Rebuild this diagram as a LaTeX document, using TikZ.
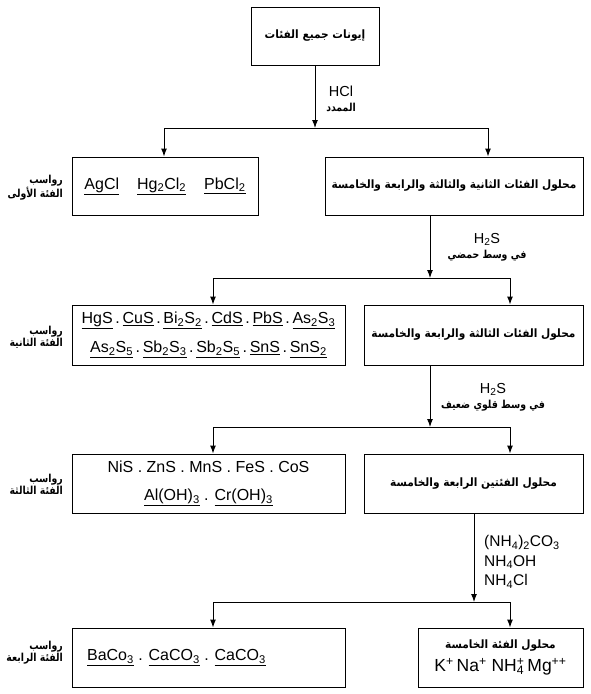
\documentclass[tikz,border=0pt]{standalone}
\usepackage{fontspec}
\setmainfont{Liberation Sans}
\newfontfamily\arabicfont[Script=Arabic]{DejaVu Sans}
\TeXXeTstate=1
\usetikzlibrary{arrows.meta}
\newcommand{\ar}[1]{\scalebox{0.92}[1]{\arabicfont\bfseries\fontsize{11.5}{13}\selectfont\beginR #1\endR}}
\newcommand{\arl}[1]{\scalebox{0.85}[1]{\arabicfont\bfseries\fontsize{11}{12}\selectfont\beginR #1\endR}}
\newcommand{\ul}[1]{\underline{#1}}
\newcommand{\sub}[1]{\textsubscript{#1}}
\newcommand{\sps}[1]{\textsuperscript{#1}}
\begin{document}
\begin{tikzpicture}[x=1pt,y=-1pt,
  box/.style={draw, line width=1pt, inner sep=0pt, align=center, font=\fontsize{16}{18}\selectfont},
  arr/.style={-{Latex[length=8pt,width=6pt]}, line width=1pt},
  ln/.style={line width=1pt},
  lbl/.style={align=right, anchor=east, inner sep=0pt},
  reag/.style={align=center, inner sep=0pt, font=\fontsize{14.5}{17}\selectfont}]
\useasboundingbox (0,0) rectangle (591,694);
\fill[white] (0,0) rectangle (591,694);

% boxes
\node[box, minimum width=128pt, minimum height=58pt] (b0) at (315,36) {\ar{إيونات جميع الفئات}};
\node[box, minimum width=186pt, minimum height=58pt] (L1) at (165,186)
  {\ul{AgCl}\hspace{18pt}\ul{Hg\sub{2}Cl\sub{2}}\hspace{18pt}\ul{PbCl\sub{2}}};
\node[box, minimum width=258pt, minimum height=58pt] (R1) at (454,186)
  {\ar{محلول الفئات الثانية والثالثة والرابعة والخامسة}};

\node[box, minimum width=273pt, minimum height=60pt, font=\fontsize{16}{29}\selectfont] (L2) at (208.5,335)
  {\ul{HgS}\,.\,\ul{CuS}\,.\,\ul{Bi\sub{2}S\sub{2}}\,.\,\ul{CdS}\,.\,\ul{PbS}\,.\,\ul{As\sub{2}S\sub{3}}\\
   \ul{As\sub{2}S\sub{5}}\,.\,\ul{Sb\sub{2}S\sub{3}}\,.\,\ul{Sb\sub{2}S\sub{5}}\,.\,\ul{SnS}\,.\,\ul{SnS\sub{2}}};
\node[box, minimum width=219pt, minimum height=60pt] (R2) at (473.5,335)
  {\ar{محلول الفئات الثالثة والرابعة والخامسة}};

\node[box, minimum width=273pt, minimum height=59pt, font=\fontsize{16}{28}\selectfont] (L3) at (208.5,483.5)
  {NiS . ZnS . MnS . FeS . CoS\\ \ul{Al(OH)\sub{3}} . \ul{Cr(OH)\sub{3}}};
\node[box, minimum width=219pt, minimum height=59pt] (R3) at (473.5,483.5)
  {\ar{محلول الفئتين الرابعة والخامسة}};

\node[box, minimum width=273pt, minimum height=59pt] (L4) at (208.5,657.5)
  {\ul{BaCo\sub{3}} . \ul{CaCO\sub{3}} . \ul{CaCO\sub{3}}\hspace*{64pt}};
\node[box, minimum width=165pt, minimum height=59pt, font=\fontsize{17.5}{22}\selectfont] (R4) at (500.5,657.5)
  {\raisebox{2pt}{\ar{محلول الفئة الخامسة}}\\[-1pt] K\sps{+}\,Na\sps{+}\;NH\rlap{\sub{4}}\sps{+}\,Mg\sps{++}};

% side labels
\node[lbl] (s1) at (63,188) {\arl{رواسب}\\\arl{الفئة الأولى}};
\node[lbl] (s2) at (63,337) {\arl{رواسب}\\\arl{الفئة الثانية}};
\node[lbl] (s3) at (63,484) {\arl{رواسب}\\\arl{الفئة الثالثة}};
\node[lbl] (s4) at (63,653) {\arl{رواسب}\\\arl{الفئة الرابعة}};

% reagents
\node[reag] (r1) at (341,99) {HCl\\[-2pt]\arl{الممدد}};
\node[reag] (r2) at (487,247) {H\sub{2}S\\[-2pt]\arl{في وسط حمضي}};
\node[reag] (r3) at (493,397) {H\sub{2}S\\[-2pt]\arl{في وسط قلوي ضعيف}};
\node[reag, align=left, anchor=west, font=\fontsize{15.5}{19.5}\selectfont] (r4) at (484,562)
  {(NH\sub{4})\sub{2}CO\sub{3}\\NH\sub{4}OH\\NH\sub{4}Cl};

% junctions
\coordinate (j1) at (315,128);
\coordinate (j1l) at (164,128);
\coordinate (j1r) at (488,128);
\coordinate (j2) at (430,278);
\coordinate (j2l) at (213,278);
\coordinate (j2r) at (510,278);
\coordinate (j3) at (430,427);
\coordinate (j3l) at (213,427);
\coordinate (j3r) at (510,427);
\coordinate (j4) at (474,602);
\coordinate (j4l) at (213,602);
\coordinate (j4r) at (510,602);

% connectors
\draw[arr] (b0.south) -- (j1);
\draw[ln] (j1l) -- (j1r);
\draw[arr] (j1l) -- (j1l |- L1.north);
\draw[arr] (j1r) -- (j1r |- R1.north);

\draw[arr] (j2 |- R1.south) -- (j2);
\draw[ln] (j2l) -- (j2r);
\draw[arr] (j2l) -- (j2l |- L2.north);
\draw[arr] (j2r) -- (j2r |- R2.north);

\draw[arr] (j3 |- R2.south) -- (j3);
\draw[ln] (j3l) -- (j3r);
\draw[arr] (j3l) -- (j3l |- L3.north);
\draw[arr] (j3r) -- (j3r |- R3.north);

\draw[arr] (j4 |- R3.south) -- (j4);
\draw[ln] (j4l) -- (j4r);
\draw[arr] (j4l) -- (j4l |- L4.north);
\draw[arr] (j4r) -- (j4r |- R4.north);
\end{tikzpicture}
\end{document}
